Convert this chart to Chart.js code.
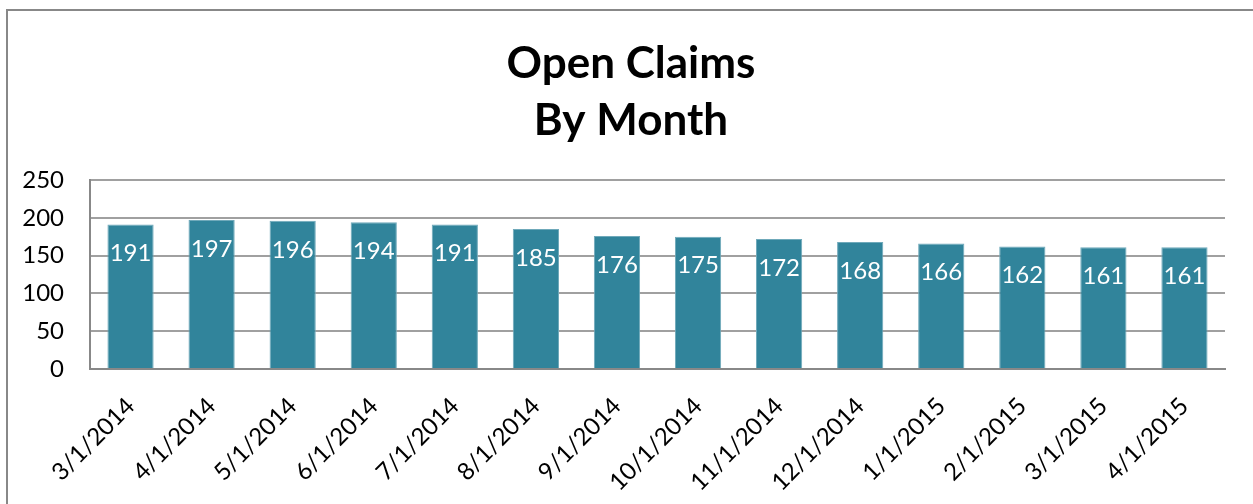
<!DOCTYPE html>
<html>
<head>
<meta charset="utf-8">
<script src="https://cdn.jsdelivr.net/npm/chart.js@4"></script>
<style>
  html, body { margin: 0; padding: 0; background: #fff; }
  #wrap { width: 1253px; height: 504px; position: relative; }
</style>
</head>
<body>
<div id="wrap"><canvas id="c" width="1253" height="504"></canvas></div>
<script>
const categories = ['3/1/2014','4/1/2014','5/1/2014','6/1/2014','7/1/2014','8/1/2014','9/1/2014','10/1/2014','11/1/2014','12/1/2014','1/1/2015','2/1/2015','3/1/2015','4/1/2015'];
const openClaims = [191, 197, 196, 194, 191, 185, 176, 175, 172, 168, 166, 162, 161, 161];
const titleLines = ['Open Claims', 'By Month'];
const yTicks = [0, 50, 100, 150, 200, 250];

const FONT = 'Lato, "Open Sans", "Liberation Sans", sans-serif';

const frame = {
  id: 'frame',
  beforeDraw(chart) {
    const ctx = chart.ctx;
    ctx.save();
    ctx.fillStyle = '#ffffff';
    ctx.fillRect(0, 0, chart.width, chart.height);
    ctx.strokeStyle = '#888888';
    ctx.lineWidth = 2;
    ctx.strokeRect(7, 10, 1400, 700);
    ctx.restore();
  }
};

const barLabels = {
  id: 'barLabels',
  afterDatasetsDraw(chart) {
    const ctx = chart.ctx;
    ctx.save();
    ctx.fillStyle = '#ffffff';
    ctx.font = '24px ' + FONT;
    ctx.textAlign = 'center';
    ctx.textBaseline = 'middle';
    chart.data.datasets.forEach((ds, di) => {
      chart.getDatasetMeta(di).data.forEach((bar, i) => {
        ctx.fillText(String(ds.data[i]), bar.x, bar.y + 29);
      });
    });
    ctx.restore();
  }
};

new Chart(document.getElementById('c'), {
  type: 'bar',
  data: {
    labels: categories,
    datasets: [{
      label: 'Open Claims',
      data: openClaims,
      backgroundColor: '#31849B',
      borderColor: '#6FA9BA',
      borderWidth: 1,
      categoryPercentage: 1.0,
      barPercentage: 0.57
    }]
  },
  options: {
    responsive: false,
    animation: false,
    devicePixelRatio: 1,
    layout: { padding: { left: 9, right: 0, top: 0, bottom: 0 } },
    plugins: {
      legend: { display: false },
      tooltip: { enabled: false },
      title: {
        display: true,
        text: titleLines,
        color: '#000000',
        font: { family: FONT, size: 44, weight: 'bold', lineHeight: 1.295 },
        padding: { top: 35.5, bottom: 30.5 }
      }
    },
    scales: {
      x: {
        grid: { display: false, drawTicks: false },
        border: { display: true, color: '#888888', width: 2 },
        ticks: {
          color: '#000000',
          font: { family: FONT, size: 24 },
          minRotation: 45,
          maxRotation: 45,
          autoSkip: false,
          padding: 23
        },
        afterFit(scale) { scale.height = 135; }
      },
      y: {
        min: 0,
        max: 250,
        afterBuildTicks(scale) { scale.ticks = yTicks.map(v => ({ value: v })); },
        grid: { color: '#a0a0a0', lineWidth: 2, drawTicks: false },
        border: { display: true, color: '#888888', width: 2 },
        ticks: {
          color: '#000000',
          font: { family: FONT, size: 24 },
          padding: 26
        },
        afterFit(scale) { scale.width = 81; }
      },
      yRightGap: {
        position: 'right',
        display: true,
        min: 0,
        max: 250,
        grid: { display: false, drawTicks: false },
        border: { display: false },
        ticks: { display: false },
        afterFit(scale) { scale.width = 28; }
      }
    }
  },
  plugins: [frame, barLabels]
});
</script>
</body>
</html>
